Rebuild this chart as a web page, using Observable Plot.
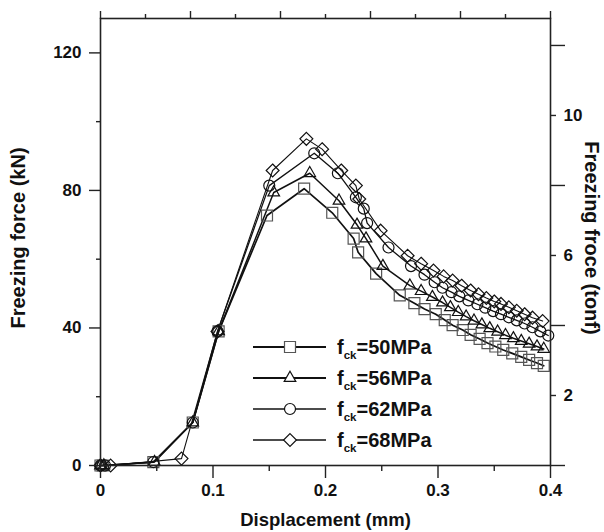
<!DOCTYPE html>
<html><head><meta charset="utf-8">
<script src="https://cdn.jsdelivr.net/npm/d3@7"></script>
<script src="https://cdn.jsdelivr.net/npm/@observablehq/plot@0.6"></script>
<style>body{margin:0;background:#fff}#chart svg{display:block}</style>
</head><body><div id="chart"></div>
<script>
// ---- data (displacement mm, freezing force kN) ----
const s50x = [0, 0.002, 0.047, 0.082, 0.105, 0.148, 0.181, 0.206, 0.225, 0.229, 0.245, 0.266, 0.279, 0.288, 0.298, 0.306, 0.313, 0.322, 0.329, 0.337, 0.344, 0.351, 0.358, 0.366, 0.374, 0.381, 0.388, 0.394];
const s50y = [0, 0, 1, 12.5, 39, 72.7, 80.5, 73.5, 66, 62, 55.8, 49.5, 47.2, 45.5, 44, 42.3, 40.8, 39.4, 38, 36.8, 35.6, 34.6, 33.6, 32.6, 31.6, 30.7, 29.8, 29];
const s56x = [0, 0.003, 0.048, 0.082, 0.105, 0.154, 0.186, 0.212, 0.228, 0.236, 0.251, 0.275, 0.285, 0.295, 0.304, 0.311, 0.318, 0.325, 0.332, 0.339, 0.346, 0.353, 0.360, 0.367, 0.374, 0.381, 0.388, 0.394];
const s56y = [0, 0, 1, 12.5, 39, 79.4, 85, 77, 70, 66, 58, 52.3, 50.7, 49, 47.4, 46, 44.6, 43.3, 42.1, 41, 39.9, 38.9, 37.9, 37, 36.2, 35.4, 34.6, 33.9];
const s62x = [0, 0.004, 0.047, 0.082, 0.104, 0.150, 0.190, 0.211, 0.227, 0.234, 0.237, 0.256, 0.276, 0.288, 0.297, 0.304, 0.312, 0.319, 0.327, 0.335, 0.342, 0.349, 0.356, 0.363, 0.370, 0.377, 0.384, 0.391, 0.398];
const s62y = [0, 0, 1, 12.5, 39, 81.4, 90.8, 85, 78, 74.7, 70.5, 63.4, 58, 55.5, 53.3, 51.7, 50.4, 49.2, 48, 46.9, 45.9, 44.9, 44, 43.1, 42.2, 41.3, 40.2, 39, 37.8];
const s68x = [0, 0.009, 0.072, 0.104, 0.153, 0.183, 0.197, 0.214, 0.227, 0.230, 0.249, 0.273, 0.285, 0.296, 0.305, 0.313, 0.321, 0.329, 0.336, 0.343, 0.350, 0.356, 0.363, 0.370, 0.377, 0.384, 0.393];
const s68y = [0, 0, 2, 39, 85.8, 95, 92, 85.8, 81.4, 77.5, 68.3, 61, 58.7, 56.7, 55, 53.8, 52.3, 50.9, 49.8, 48.7, 47.7, 47, 46, 45, 44, 43, 42];

const seriesNames = ["50MPa", "56MPa", "62MPa", "68MPa"];
const xMajor = [0, 0.1, 0.2, 0.3, 0.4];
const xMinor = [0.05, 0.15, 0.25, 0.35];
const topMajor = [0, 0.08, 0.16, 0.24, 0.32, 0.4];
const topMinor = [0.04, 0.12, 0.2, 0.28, 0.36];
const yMajor = [0, 40, 80, 120];
const yMinor = [20, 60, 100];
const tonfLabeled = [2, 6, 10];
const tonfUnlabeled = [0, 4, 8, 12];
const KN_PER_TONF = 10.18;

const rows = (xs, ys) => xs.map((x, i) => ({x, y: ys[i]}));
const d50 = rows(s50x, s50y), d56 = rows(s56x, s56y), d62 = rows(s62x, s62y), d68 = rows(s68x, s68y);

const FONT = "'Liberation Sans', Arial, sans-serif";
const styleDefs = [
  {data: d50, symbol: "square", r: 6.2, mstroke: "#555", lw: 1.7},
  {data: d56, symbol: "triangle", r: 4.3, mstroke: "#111", lw: 1.5},
  {data: d62, symbol: "circle", r: 5.5, mstroke: "#111", lw: 1.3},
  {data: d68, symbol: "diamond2", r: 5.8, mstroke: "#111", lw: 1.1}
];

const marks = [];
for (const s of styleDefs) {
  marks.push(Plot.line(s.data, {x: "x", y: "y", stroke: "#111", strokeWidth: s.lw}));
}
for (const s of styleDefs) {
  marks.push(Plot.dot(s.data, {x: "x", y: "y", symbol: () => s.symbol, r: s.r, stroke: s.mstroke, fill: "none", strokeWidth: 1.2}));
}
const tickStyle = {stroke: "#222", strokeWidth: 1.4, label: null};
marks.push(
  Plot.axisX({...tickStyle, anchor: "bottom", ticks: xMajor, tickSize: 13, tickPadding: 5, tickFormat: d => String(d), fontSize: 17, fontWeight: "bold"}),
  Plot.axisX({...tickStyle, anchor: "bottom", ticks: xMinor, tickSize: 6, tickFormat: () => ""}),
  Plot.axisX({...tickStyle, anchor: "top", ticks: topMajor, tickSize: 8, tickFormat: () => ""}),
  Plot.axisX({...tickStyle, anchor: "top", ticks: topMinor, tickSize: 5, tickFormat: () => ""}),
  Plot.axisY({...tickStyle, anchor: "left", ticks: yMajor, tickSize: 11, tickPadding: 8, tickFormat: d => String(d), fontSize: 17, fontWeight: "bold"}),
  Plot.axisY({...tickStyle, anchor: "left", ticks: yMinor, tickSize: 4, tickFormat: () => ""}),
  Plot.axisY({...tickStyle, anchor: "right", ticks: tonfLabeled.map(t => t * KN_PER_TONF), tickSize: 5, tickPadding: 8, tickFormat: v => String(Math.round(v / KN_PER_TONF)), fontSize: 17, fontWeight: "bold"}),
  Plot.axisY({...tickStyle, anchor: "right", ticks: tonfUnlabeled.map(t => t * KN_PER_TONF), tickSize: 14, tickFormat: () => ""}),
  Plot.frame({stroke: "#222", strokeWidth: 1.6}),
  Plot.text(["Displacement (mm)"], {frameAnchor: "bottom", dy: 55, textAnchor: "middle", lineAnchor: "middle", text: d => d, fontSize: 18.5, fontWeight: "bold"}),
  Plot.text(["Freezing force (kN)"], {frameAnchor: "left", dx: -82, dy: -4, rotate: -90, textAnchor: "middle", lineAnchor: "middle", text: d => d, fontSize: 20, fontWeight: "bold"}),
  Plot.text(["Freezing froce (tonf)"], {frameAnchor: "right", dx: 41, dy: -4, rotate: 90, textAnchor: "middle", lineAnchor: "middle", text: d => d, fontSize: 20, fontWeight: "bold"})
);

const chart = Plot.plot({
  width: 604, height: 532,
  marginTop: 18, marginRight: 54, marginBottom: 67, marginLeft: 100,
  style: {fontFamily: FONT, color: "#111", background: "#fff", overflow: "visible"},
  x: {domain: [0, 0.4], label: null},
  y: {domain: [0, 130], label: null},
  marks
});
document.getElementById("chart").appendChild(chart);

// ---- legend ----
const svg = d3.select(chart);
const lg = svg.append("g").attr("font-family", FONT).attr("font-weight", "bold").attr("fill", "#111").attr("text-anchor", "start");
const symMap = {square: d3.symbolSquare, triangle: d3.symbolTriangle, circle: d3.symbolCircle, diamond2: d3.symbolDiamond2};
const legendTop = 347, legendStep = 31;
styleDefs.forEach((s, i) => {
  const yy = legendTop + i * legendStep;
  lg.append("line").attr("x1", 253).attr("x2", 326).attr("y1", yy).attr("y2", yy)
    .attr("stroke", "#111").attr("stroke-width", s.lw + 0.3);
  lg.append("path").attr("d", d3.symbol(symMap[s.symbol], Math.PI * s.r * s.r)())
    .attr("transform", `translate(290,${yy})`).attr("fill", "#fff").attr("stroke", s.mstroke).attr("stroke-width", 1.2);
  const t = lg.append("text").attr("x", 337).attr("y", yy + 7).attr("font-size", 20);
  t.append("tspan").text("f");
  t.append("tspan").attr("font-size", 11.5).attr("dy", 5).text("ck");
  t.append("tspan").attr("dy", -5).text("=" + seriesNames[i]);
});
</script></body></html>
